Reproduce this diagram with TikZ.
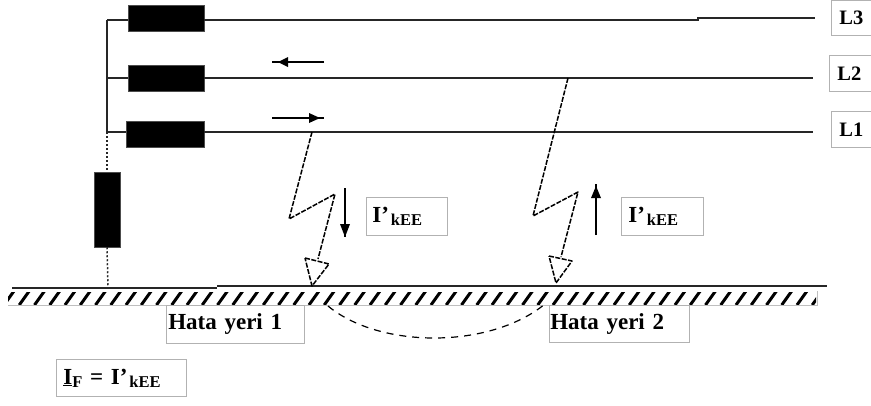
\documentclass[tikz,border=0pt]{standalone}
\usepackage{fontspec}
\setmainfont{Liberation Serif}
\tikzset{
  x=1pt,y=-1pt,
  ind/.style={draw=black!70,fill=black,line width=.5pt,inner sep=0,minimum width=76pt,minimum height=26pt},
  wire/.style={line width=1.3pt,draw=black!85},
  lab/.style={draw=black!30,line width=.7pt,fill=white,inner sep=0,font=\bfseries\fontsize{23pt}{25pt}\selectfont,anchor=north west,align=left},
  labl/.style={lab,font=\bfseries\fontsize{20.5pt}{22pt}\selectfont},
  bolt/.style={line width=1.5pt,dash pattern=on 5pt off 1.5pt,line join=round},
  hat/.style={line width=3pt,black},
  dots/.style={line width=1.5pt,dash pattern=on 2pt off 2pt,black!85},
}
\newcommand{\Ikee}{I’\kern2pt\raisebox{-3pt}{\fontsize{16.5pt}{17pt}\selectfont kEE}}
\begin{document}
\begin{tikzpicture}
\useasboundingbox (0,0) rectangle (871,405);
% reactors
\node[ind] (r3) at (166,18) {};
\node[ind] (r2) at (166,78) {};
\node[ind,minimum width=78pt] (r1) at (165,134.5) {};
\node[ind,minimum width=26pt,minimum height=75pt] (rg) at (107,209.5) {};
% bus
\coordinate (b3) at (107,20);
\coordinate (b2) at (107,78);
\coordinate (b1) at (107,132);
\draw[wire] (b3) -- (b1);
\draw[wire] (b3) -- (b3-|r3.west);
\draw[wire] (b2) -- (r2.west);
\draw[wire] (b1) -- (b1-|r1.west);
% line ends
\coordinate (e3) at (815,18);
\coordinate (e2) at (813,78);
\coordinate (e1) at (813,132);
\draw[wire] (r3.east|-b3) -- (698,20) -- (698,18) -- (e3);
\draw[wire] (r2.east) -- (e2);
\draw[wire] (e1-|r1.east) -- (e1);
% ground
\coordinate (g0) at (12,288);
\coordinate (g1) at (217,288);
\coordinate (g2) at (217,286);
\coordinate (g3) at (827,286);
\draw[line width=1.3pt,black!85] (g0) -- (g1);
\draw[line width=1.3pt,black!85] (g2) -- (g3);
\draw[draw=black!25,line width=.7pt] (8,305) -- (817,305) -- (817,291);
\begin{scope}
\clip (8,292) rectangle (816,304);
\foreach \i in {0,...,53}{
  \draw[hat] ({4+\i*15.25},305) -- ({14+\i*15.25},291);
}
\end{scope}
% earth connection
\coordinate (gt) at (108,287);
\draw[dots] (b1) -- (b1|-rg.north);
\draw[dots] (rg.south) -- (gt);
% fault bolts
\coordinate (f1a) at (312,132);
\coordinate (f1b) at (289,219);
\coordinate (f1c) at (335,194);
\coordinate (f1d) at (318,259);
\coordinate (f1e) at (305,258);
\coordinate (f1f) at (329,264);
\coordinate (f1g) at (312,286);
\draw[bolt] (f1a) -- (f1b) -- (f1c) -- (f1d);
\draw[bolt] (f1e) -- (f1f) -- (f1g) -- cycle;
\coordinate (f2a) at (568,78);
\coordinate (f2b) at (533,216);
\coordinate (f2c) at (578,192);
\coordinate (f2d) at (561,257);
\coordinate (f2e) at (549,256);
\coordinate (f2f) at (572,261);
\coordinate (f2g) at (556,283);
\draw[bolt] (f2a) -- (f2b) -- (f2c) -- (f2d);
\draw[bolt] (f2e) -- (f2f) -- (f2g) -- cycle;
% current arrows
\coordinate (a1s) at (324,62);
\coordinate (a1e) at (272,62);
\coordinate (a2s) at (272,118);
\coordinate (a2e) at (324,118);
\coordinate (a3s) at (345,188);
\coordinate (a3e) at (345,237);
\coordinate (a4s) at (596,235);
\coordinate (a4e) at (596,184);
\draw[line width=1.2pt] (a1s) -- (a1e);
\fill (288,57) -- (278,62) -- (288,67) -- cycle;
\draw[line width=1.2pt] (a2s) -- (a2e);
\fill (309,113) -- (320,118) -- (309,123) -- cycle;
\draw[line width=1.2pt] (a3s) -- (a3e);
\fill (340,224) -- (350,224) -- (345,237) -- cycle;
\draw[line width=1.2pt] (a4s) -- (a4e);
\fill (591,198) -- (601,198) -- (596,186) -- cycle;
% labels
\node[lab,text width=81pt,minimum height=38pt] (k1) at (366,197) {\hspace{6pt}\Ikee};
\node[lab,text width=82pt,minimum height=38pt] (k2) at (621,197) {\hspace{7pt}\Ikee};
\node[lab,text width=138pt,minimum height=38pt] (h1) at (166,305) {\hspace{2pt}\raisebox{-2pt}{Hata yeri 1}};
\node[lab,text width=140pt,minimum height=37pt] (h2) at (549,305) {\hspace{1pt}\raisebox{-2pt}{Hata yeri 2}};
\node[lab,text width=130pt,minimum height=37pt] (iF) at (56,359) {\hspace{7pt}\underline{I}\raisebox{-3pt}{\fontsize{16.5pt}{17pt}\selectfont F} = \Ikee};
\node[labl,text width=41pt,minimum height=35pt] (l3) at (831,0) {\hspace{8pt}L3};
\node[labl,text width=43pt,minimum height=36pt] (l2) at (829,55) {\hspace{8pt}L2};
\node[labl,text width=41pt,minimum height=36pt] (l1) at (831,111) {\hspace{8pt}L1};
% dashed arc between fault places
\coordinate (d1) at (328,306);
\coordinate (d2) at (545,304);
\draw[line width=1.2pt,dash pattern=on 7pt off 6pt] (d1) .. controls (380,349) and (490,349) .. (d2);
\end{tikzpicture}
\end{document}
